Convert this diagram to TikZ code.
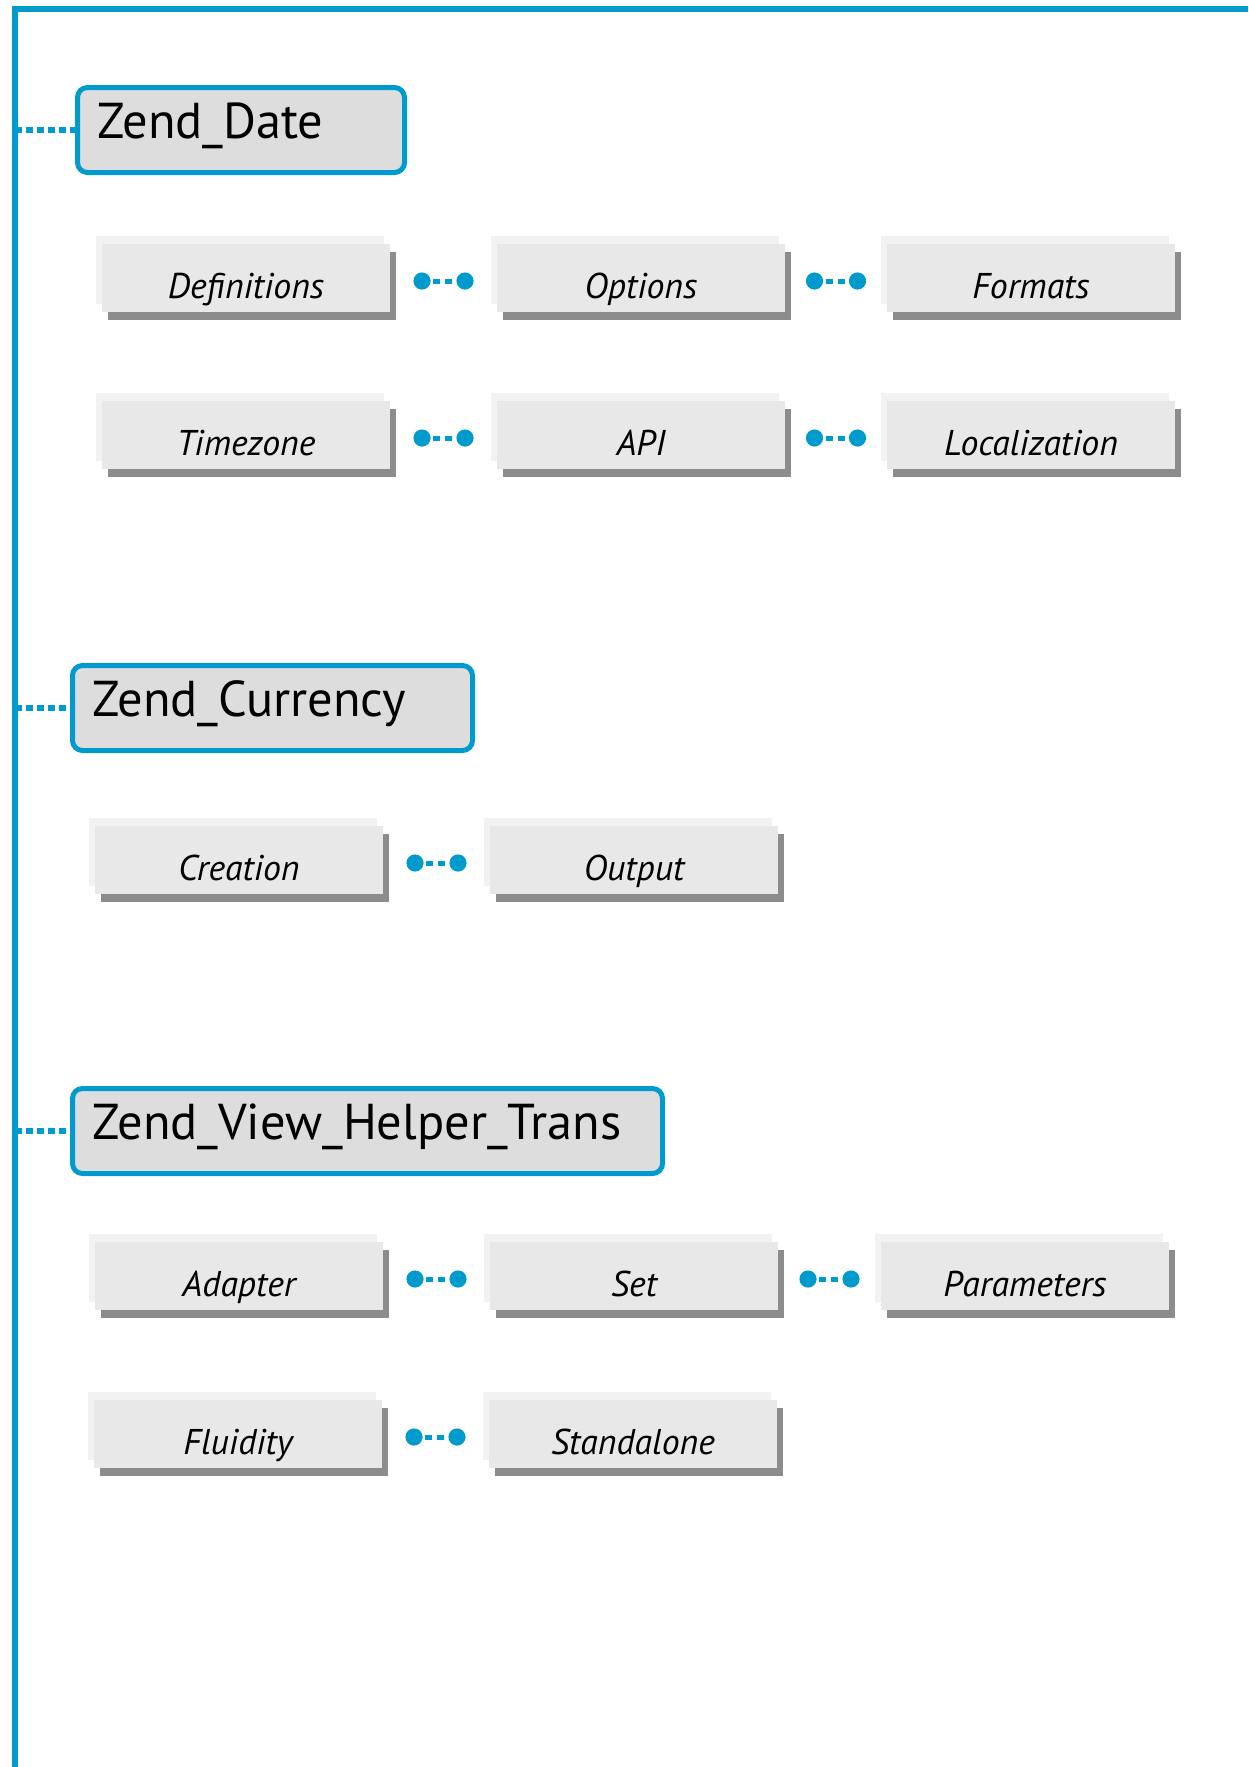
\documentclass[tikz,border=0pt]{standalone}
\usepackage{fontspec}
\setmainfont{PT Sans}
\usetikzlibrary{calc,shadows}
\definecolor{zblue}{RGB}{0,155,205}
\definecolor{headgray}{HTML}{DDDDDD}
\definecolor{boxgray}{HTML}{E8E8E8}
\definecolor{backgray}{HTML}{F2F2F2}
\definecolor{shadegray}{HTML}{8C8C8C}

\begin{document}
\begin{tikzpicture}[x=0.5pt,y=-0.5pt,
  comp/.style={anchor=north west, draw=zblue, line width=2.5pt, fill=headgray,
    rounded corners=5pt, inner xsep=10pt, inner ysep=0pt, text height=25.25pt,
    text depth=17.25pt, align=left, font=\fontsize{25.2}{30}\selectfont},
  topic/.style={anchor=north west, fill=boxgray, minimum width=144pt,
    minimum height=34pt, inner sep=0pt, outer sep=0pt, text height=27pt,
    text depth=7pt, font=\fontsize{17.9}{21}\selectfont\itshape,
    general shadow={fill=backgray, shadow xshift=-3pt, shadow yshift=4pt},
    general shadow={fill=shadegray, shadow xshift=2.75pt, shadow yshift=-3.75pt}},
  branch/.style={draw=zblue, line width=3pt, dash pattern=on 3.5pt off 2pt},
  link/.style={draw=zblue, line width=2.5pt, dash pattern=on 3.5pt off 2.5pt, dash phase=0.5pt},
  knob/.style={fill=zblue}]
\useasboundingbox (0,0) rectangle (1248,1767);

% frame
\draw[zblue, line width=3pt] (1248,9) -- (15,9) -- (15,1767);
\coordinate (rail) at (15,0);

% Zend_Date
\node[comp, text width=143.5pt] (date) at (75,85) {Zend\_Date};
\node[topic] (defs) at (102,244) {Definitions};
\node[topic] (opts) at (497,244) {Options};
\node[topic] (fmts) at (887,244) {Formats};
\node[topic] (tz) at (102,401) {Timezone};
\node[topic] (api) at (497,401) {API};
\node[topic] (loc) at (887,401) {Localization};

% Zend_Currency
\node[comp, text width=180pt] (currency) at (70,663) {Zend\_Currency};
\node[topic] (crea) at (95,826) {Creation};
\node[topic] (outp) at (490,826) {Output};

% Zend_View_Helper_Trans
\node[comp, text width=275pt] (viewhelper) at (70,1086) {Zend\_View\_Helper\_Trans};
\node[topic] (adap) at (95,1242) {Adapter};
\node[topic] (set) at (490,1242) {Set};
\node[topic] (params) at (881,1242) {Parameters};
\node[topic] (flui) at (94,1400) {Fluidity};
\node[topic] (stand) at (489,1400) {Standalone};

% connectors
\foreach \h in {date,currency,viewhelper}
  \draw[branch] (rail |- \h.west) -- (\h.west);

\foreach \a/\b in {defs/opts,opts/fmts,tz/api,api/loc,crea/outp,adap/set,set/params,flui/stand}{
  \coordinate (m) at ($(\a.east)!.5!(\b.west)+(0,3)$);
  \draw[link] ([xshift=-10.75pt]m) -- ([xshift=10.75pt]m);
  \fill[knob] ([xshift=-10.75pt]m) circle[radius=4.3pt] ([xshift=10.75pt]m) circle[radius=4.3pt];
}
\end{tikzpicture}
\end{document}
